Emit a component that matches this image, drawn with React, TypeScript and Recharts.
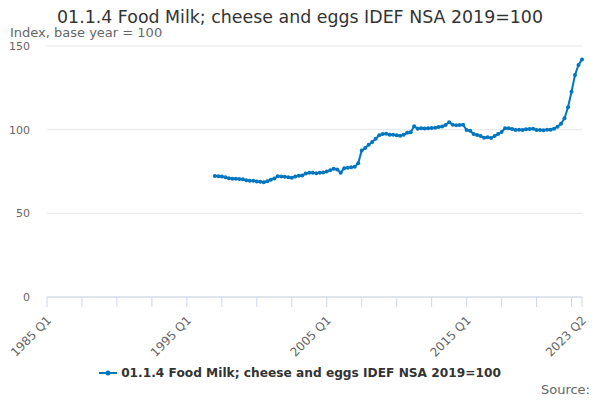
import React from 'react';
import { LineChart, Line, CartesianGrid, XAxis, YAxis } from 'recharts';

const FONT = '"DejaVu Sans", sans-serif';
const LINE_COLOR = '#0076c0';
const SERIES_NAME = '01.1.4 Food Milk; cheese and eggs IDEF NSA 2019=100';

const FIRST_YEAR = 1985;
const LAST_YEAR = 2023;
const LAST_QUARTER = 2;
const SERIES_START = '1997 Q1';

// index values from 1997 Q1 to 2023 Q2
const VALUES = [
  72.3, 72.2, 72.0, 71.6,
  71.0, 70.6, 70.6, 70.5,
  70.3, 69.8, 69.5, 69.4,
  69.0, 68.8, 68.6, 69.2,
  70.0, 70.8, 72.2, 72.0,
  71.8, 71.6, 71.3, 72.0,
  72.4, 72.6, 73.8, 74.2,
  74.2, 73.9, 74.2, 74.4,
  75.0, 75.8, 76.6, 76.2,
  74.3, 77.0, 77.3, 77.5,
  77.8, 80.0, 87.5, 89.0,
  91.0, 92.6, 94.6, 96.6,
  97.4, 97.6, 97.0, 97.0,
  96.6, 96.4, 96.9, 98.2,
  98.4, 102.0, 100.6, 100.9,
  100.7, 100.9, 101.0, 101.2,
  101.6, 101.9, 102.8, 104.4,
  103.0, 102.6, 102.8, 102.9,
  99.8, 99.4, 97.4, 96.8,
  96.2, 95.2, 95.4, 95.0,
  96.2, 97.4, 98.6, 100.8,
  100.8, 100.4, 99.8, 99.9,
  99.8, 100.2, 100.4, 100.5,
  99.8, 99.8, 99.7, 99.9,
  100.0, 100.6, 101.8, 103.6,
  106.8, 113.4, 122.7, 132.7,
  138.7, 142.0,
];

const Y_TICKS = [0, 50, 100, 150];
const X_LABELS = ['1985 Q1', '1995 Q1', '2005 Q1', '2015 Q1', '2023 Q2'];

const QUARTERS: string[] = [];
for (let y = FIRST_YEAR; y <= LAST_YEAR; y++) {
  for (let q = 1; q <= 4; q++) {
    if (y === LAST_YEAR && q > LAST_QUARTER) break;
    QUARTERS.push(`${y} Q${q}`);
  }
}

const startIdx = QUARTERS.indexOf(SERIES_START);
const data = VALUES.map((value, i) => ({
  idx: startIdx + i,
  label: QUARTERS[startIdx + i],
  value,
}));

const lastIdx = QUARTERS.length - 1;
const xTicks: number[] = [];
for (let i = 0; i <= lastIdx; i += 10) xTicks.push(i);
xTicks.push(lastIdx);

const XTick = (props: any) => {
  const { x, y, payload } = props;
  const label = QUARTERS[payload.value];
  if (!X_LABELS.includes(label)) return null;
  const tx = x + 5;
  const ty = y + 12;
  return (
    <text
      x={tx}
      y={ty}
      textAnchor="end"
      fontSize={12}
      fontFamily={FONT}
      fill="#666666"
      transform={`rotate(-45 ${tx} ${ty})`}
    >
      {label}
    </text>
  );
};

export default function App() {
  return (
    <div style={{ position: 'absolute', left: 0, top: 0, width: 600, height: 400, fontFamily: FONT }}>
      <div
        style={{
          position: 'absolute',
          top: 7,
          left: 0,
          width: 600,
          textAlign: 'center',
          fontSize: 17.4,
          color: '#333333',
        }}
      >
        {SERIES_NAME}
      </div>
      <div style={{ position: 'absolute', top: 25, left: 10, fontSize: 13, color: '#666666' }}>
        Index, base year = 100
      </div>
      <LineChart
        width={600}
        height={400}
        data={data}
        margin={{ top: 46, right: 18, bottom: 43, left: 0 }}
      >
        <CartesianGrid stroke="#e6e6e6" vertical={false} />
        <XAxis
          dataKey="idx"
          type="number"
          domain={[0, lastIdx]}
          ticks={xTicks}
          interval={0}
          height={60}
          tickSize={10}
          stroke="#ccd6eb"
          tickLine={{ stroke: '#ccd6eb' }}
          axisLine={{ stroke: '#ccd6eb' }}
          tick={<XTick />}
        />
        <YAxis
          domain={[0, 150]}
          ticks={Y_TICKS}
          width={47}
          tickLine={false}
          axisLine={false}
          tickSize={0}
          tickMargin={17}
          tick={{ fontSize: 11, fill: '#666666', fontFamily: FONT }}
        />
        <Line
          type="linear"
          dataKey="value"
          name={SERIES_NAME}
          stroke={LINE_COLOR}
          strokeWidth={2}
          dot={{ r: 2, fill: LINE_COLOR, stroke: LINE_COLOR, strokeWidth: 0 }}
          isAnimationActive={false}
        />
      </LineChart>
      <div
        style={{
          position: 'absolute',
          top: 366,
          left: 0,
          width: 600,
          display: 'flex',
          justifyContent: 'center',
          alignItems: 'center',
          fontSize: 12.2,
          fontWeight: 'bold',
          color: '#333333',
        }}
      >
        <svg width={18} height={10} style={{ marginRight: 4 }}>
          <line x1={0} y1={5} x2={18} y2={5} stroke={LINE_COLOR} strokeWidth={2} />
          <circle cx={9} cy={5} r={2.5} fill={LINE_COLOR} />
        </svg>
        {SERIES_NAME}
      </div>
      <div style={{ position: 'absolute', top: 382, right: 10, fontSize: 13, color: '#666666' }}>
        Source:
      </div>
    </div>
  );
}
